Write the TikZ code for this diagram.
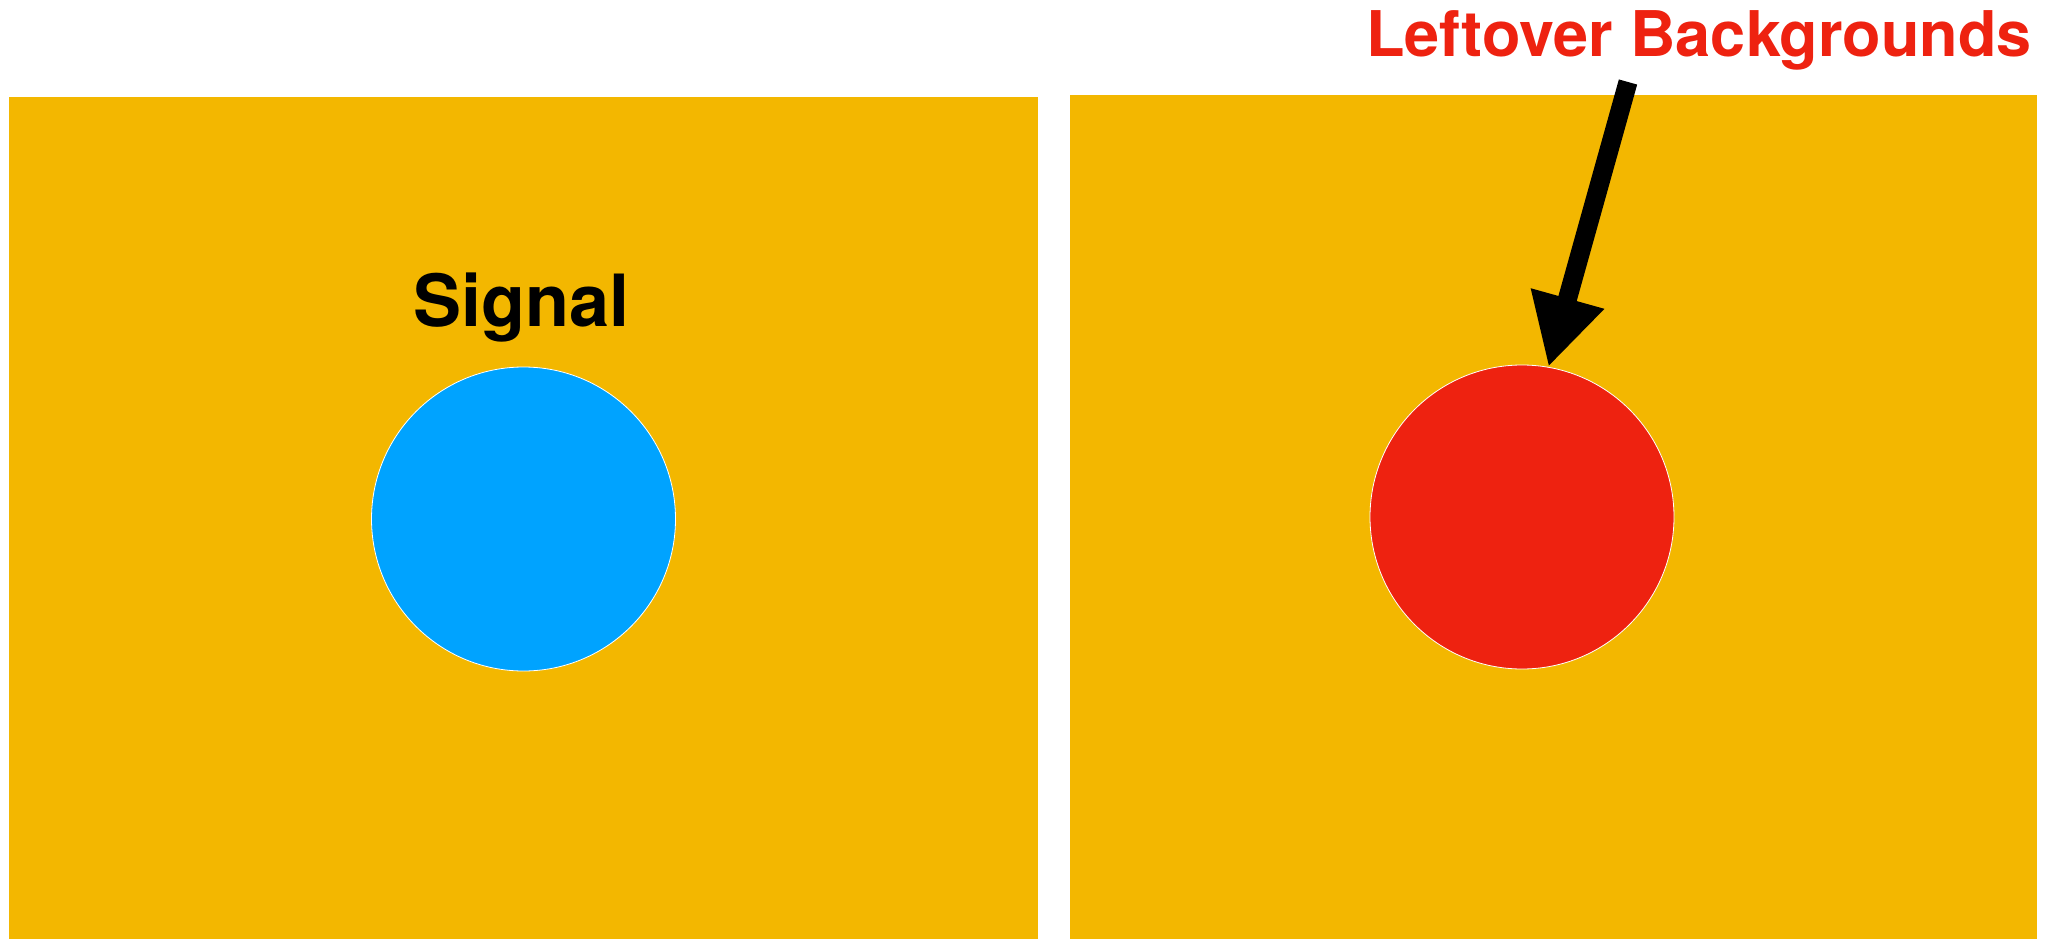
\documentclass[tikz,border=0pt]{standalone}
\usepackage{fontspec}
\setmainfont{TeX Gyre Heros}
\usetikzlibrary{arrows.meta}
\definecolor{bgyellow}{RGB}{243,183,0}
\definecolor{sigblue}{RGB}{0,163,255}
\definecolor{leftred}{RGB}{238,34,16}
\begin{document}
\begin{tikzpicture}[x=1pt,y=-1pt,
  panel/.style={fill=bgyellow},
  disc/.style={circle,minimum size=304pt,inner sep=0pt,draw=white,line width=0.8pt},
  arrowline/.style={line width=19pt,-{Triangle[length=71pt,width=71pt]}},
  bigtext/.style={inner sep=0pt,anchor=base,font=\bfseries}]
\useasboundingbox (0,0) rectangle (2057,939);
\fill[white] (0,0) rectangle (2057,939);
% panels
\fill[panel] (9,97) rectangle (1038,939);
\fill[panel] (1070,95) rectangle (2037,939);
% discs
\node[disc,fill=sigblue] (sig) at (523.5,519) {};
\node[disc,fill=leftred] (red) at (1522,517) {};
% labels
\node[bigtext,font=\fontsize{72}{80}\selectfont\bfseries] (siglabel) at (521.5,326) {Signal};
\node[bigtext,text=leftred,font=\fontsize{63}{70}\selectfont\bfseries] (title) at (1699,57) {Leftover Backgrounds};
% arrow
\coordinate (atop) at (1628,82);
\draw[arrowline] (atop) -- (red.80);
\end{tikzpicture}
\end{document}
